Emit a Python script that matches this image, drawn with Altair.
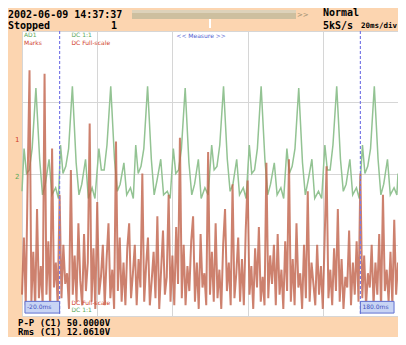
import altair as alt
import pandas as pd

# ---------------- data ----------------
# time axis: 10 divisions x 20 ms ; vertical axis: 8 divisions
time_ms = list(range(0, 201))
ch2_red = [
    0.6, 2.2, 0.3, 3.8, 6.9, 0.4, 1.8, 0.2, 3.0, 0.5,
    1.4, 0.3, 6.8, 0.6, 2.1, 0.2, 4.7, 0.8, 1.5, 0.3,
    3.4, 0.5, 2.0, 0.9, 1.2, 0.2, 4.1, 0.6, 1.7, 0.4,
    2.6, 1.0, 0.3, 2.3, 0.7, 1.5, 5.4, 0.4, 1.9, 0.2,
    3.2, 0.6, 1.1, 2.0, 0.3, 1.6, 2.6, 0.5, 1.3, 0.2,
    4.9, 0.7, 2.2, 0.4, 1.5, 0.3, 1.9, 2.6, 0.5, 1.2,
    2.0, 0.3, 1.6, 0.8, 4.0, 0.4, 1.4, 2.2, 0.3, 1.0,
    1.8, 0.5, 2.8, 0.2, 1.3, 2.4, 0.6, 1.1, 3.4, 0.4,
    1.7, 0.3, 2.5, 0.9, 5.0, 0.5, 2.0, 0.3, 1.4, 0.7,
    2.1, 2.8, 0.4, 1.5, 0.2, 2.3, 0.8, 1.2, 0.3, 4.6,
    0.6, 1.8, 0.4, 2.6, 0.5, 1.3, 0.2, 2.0, 3.0, 0.7,
    1.5, 0.3, 3.7, 0.5, 1.2, 2.2, 0.4, 1.6, 0.3, 2.4,
    3.8, 0.6, 1.4, 0.2, 1.9, 0.8, 2.5, 0.4, 1.1, 0.3,
    4.3, 0.5, 1.7, 0.9, 2.0, 0.3, 2.3, 0.6, 1.3, 0.2,
    2.1, 0.7, 4.4, 0.4, 1.6, 0.3, 2.6, 0.8, 1.2, 0.2,
    2.0, 0.5, 3.5, 0.4, 1.5, 0.9, 0.3, 2.0, 0.6, 1.4,
    0.2, 2.2, 4.2, 0.5, 1.3, 0.3, 1.9, 0.7, 3.0, 0.4,
    1.6, 0.2, 1.1, 0.8, 2.4, 0.3, 1.5, 0.6, 2.1, 0.4,
    4.0, 0.5, 1.7, 0.3, 1.2, 0.8, 2.0, 0.3, 1.5, 0.6,
    2.3, 0.2, 3.4, 0.7, 1.3, 0.4, 1.8, 0.3, 2.7, 0.6,
    1.5,
]
green_t = [
    0.0,
    1.1, 2.4, 3.9, 5.4, 7.4, 9.4, 10.9, 12.4, 14.4, 15.9, 17.9, 19.4,
    20.5, 21.8, 23.3, 24.8, 26.8, 28.8, 30.3, 31.8, 33.8, 35.3, 37.3, 38.8,
    40.9, 42.2, 43.7, 45.2, 47.2, 49.2, 50.7, 52.2, 54.2, 55.7, 57.7, 59.2,
    60.5, 61.8, 63.3, 64.8, 66.8, 68.8, 70.3, 71.8, 73.8, 75.3, 77.3, 78.8,
    80.5, 81.8, 83.3, 84.8, 86.8, 88.8, 90.3, 91.8, 93.8, 95.3, 97.3, 99.0,
    100.9, 102.2, 103.7, 105.2, 107.2, 109.2, 110.7, 112.2, 114.2, 115.7, 117.7, 119.2,
    120.9, 122.2, 123.7, 125.2, 127.2, 129.2, 130.7, 132.2, 134.2, 135.7, 137.7, 139.2,
    140.9, 142.2, 143.7, 145.2, 147.2, 149.2, 150.7, 152.2, 154.2, 155.7, 157.7, 159.4,
    161.1, 162.4, 163.9, 165.4, 167.4, 169.4, 170.9, 172.4, 174.4, 175.9, 177.9, 179.4,
    181.1, 182.4, 183.9, 185.4, 187.4, 189.4, 190.9, 192.4, 194.4, 195.9, 197.9, 199.4,
    200.0,
]
green_v = [
    3.5,
    4.7, 4.0, 4.1, 4.7, 6.40, 4.4, 3.4, 3.7, 4.4, 3.4, 3.6, 3.3,
    4.8, 4.0, 4.2, 4.7, 6.45, 4.3, 3.4, 3.7, 4.4, 3.3, 3.6, 3.3,
    4.7, 4.1, 4.1, 4.8, 6.45, 4.4, 3.5, 3.7, 4.3, 3.4, 3.6, 3.3,
    4.8, 4.0, 4.2, 4.7, 6.45, 4.4, 3.4, 3.8, 4.4, 3.4, 3.5, 3.3,
    4.7, 4.0, 4.1, 4.7, 6.40, 4.3, 3.4, 3.7, 4.4, 3.3, 3.6, 3.4,
    4.8, 4.1, 4.2, 4.8, 6.45, 4.4, 3.5, 3.7, 4.4, 3.4, 3.6, 3.3,
    4.8, 4.0, 4.1, 4.7, 6.45, 4.4, 3.4, 3.7, 4.3, 3.4, 3.6, 3.3,
    4.7, 4.0, 4.2, 4.7, 6.40, 4.3, 3.4, 3.8, 4.4, 3.3, 3.5, 3.3,
    4.8, 4.1, 4.1, 4.8, 6.45, 4.4, 3.5, 3.7, 4.4, 3.4, 3.6, 3.3,
    4.8, 4.0, 4.2, 4.7, 6.45, 4.4, 3.4, 3.7, 4.4, 3.4, 3.6, 3.4,
    4.0,
]
cursor_t = [20, 180]
x_grid = list(range(0, 201, 20))
y_grid = list(range(0, 9))

header_date = "2002-06-09 14:37:37"
header_state = "Stopped"
header_count = "1"
header_mode = "Normal"
header_rate = "5kS/s"
header_div = "20ms/div"
meas_line1 = "P-P (C1)  50.0000V"
meas_line2 = "Rms (C1)  12.0610V"

# ---------------- layout ----------------
PW, PH = 376, 285           # plot area
PAGE_X0, PAGE_Y0 = 22, 31   # page position of plot origin
MONO = "DejaVu Sans Mono"
SANS = "DejaVu Sans"
PEACH = "#fcd5b0"

xs = alt.Scale(domain=[0, 200], nice=False, zero=False)
ys = alt.Scale(domain=[0, 8], nice=False, zero=False)
x_axis = alt.Axis(values=x_grid, grid=True, gridColor="#d6d6d6", gridWidth=1,
                  labels=False, ticks=False, domain=False, title=None)
y_axis = alt.Axis(values=y_grid, grid=True, gridColor="#d6d6d6", gridWidth=1,
                  labels=False, ticks=False, domain=False, title=None)

red_df = pd.DataFrame({"t": time_ms, "v": ch2_red})
green_df = pd.DataFrame({"t": green_t, "v": green_v})
cur_df = pd.DataFrame({"t": cursor_t})

green = alt.Chart(green_df).mark_line(color="#93c393", strokeWidth=1.5).encode(
    x=alt.X("t:Q", scale=xs, axis=x_axis),
    y=alt.Y("v:Q", scale=ys, axis=y_axis),
)
red = alt.Chart(red_df).mark_line(color="#c0624a", strokeWidth=2.0, opacity=0.8).encode(
    x=alt.X("t:Q", scale=xs),
    y=alt.Y("v:Q", scale=ys),
)
cursors = alt.Chart(cur_df).mark_rule(color="#7b7be6", strokeDash=[3, 2], strokeWidth=1.2).encode(
    x=alt.X("t:Q", scale=xs)
)

one = pd.DataFrame({"k": [0]})


def page(px, py):
    return px - PAGE_X0, py - PAGE_Y0


def inside(px, py):
    return (px - 22) * PW / 380.0, (py - 33) * PH / 292.0


def txt(s, pos, color="black", size=10, weight="bold", font=MONO, align="left"):
    x, y = pos
    return alt.Chart(one).mark_text(text=s, align=align, baseline="middle", color=color,
                                    fontSize=size, fontWeight=weight, font=font).encode(
        x=alt.value(x), y=alt.value(y))


def box(p1, p2, color, opacity=1.0, stroke=None):
    (x1, y1), (x2, y2) = p1, p2
    kw = dict(color=color, opacity=opacity)
    if stroke:
        kw.update(stroke=stroke, strokeWidth=1)
    return alt.Chart(one).mark_rect(**kw).encode(
        x=alt.value(x1), x2=alt.value(x2), y=alt.value(y1), y2=alt.value(y2))


deco = [
    # header progress bar
    box(page(132, 10), page(296, 19), "#cdbf9f"),
    box(page(132, 10), page(296, 13), "#ddd2ba"),
    box(page(209, 19), page(211, 28), "#ffffff"),
    txt(">>", page(297, 15), color="#a09070", size=7, weight="normal", font=SANS),
    txt(header_date, page(8, 15)),
    txt(header_state, page(8, 26)),
    txt(header_count, page(111, 26)),
    txt(header_mode, page(323, 13)),
    txt(header_rate, page(323, 26)),
    txt(header_div, page(361, 26), size=7.5),
    # inside labels (top)
    txt("AD1", inside(24, 37), color="#5aa85a", size=6, weight="normal", font=SANS),
    txt("Marks", inside(24, 45), color="#d0402a", size=6, weight="normal", font=SANS),
    txt("DC 1:1", inside(72, 37), color="#5aa85a", size=6, weight="normal", font=SANS),
    txt("DC Full-scale", inside(72, 45), color="#d0402a", size=6, weight="normal", font=SANS),
    txt("<< Measure >>", inside(178, 38), color="#5060d0", size=6, weight="normal", font=SANS),
    # channel markers on the left edge
    txt("1", inside(15, 145), color="#d0402a", size=7, weight="normal", font=SANS),
    txt("2", inside(15, 183), color="#5aa85a", size=7, weight="normal", font=SANS),
    # bottom boxes inside plot
    box(inside(25, 310), inside(60, 322), "#c8d4f4", stroke="#6070d0"),
    txt("-20.0ms", inside(27, 316), color="#4050c0", size=6, weight="normal", font=SANS),
    txt("DC Full-scale", inside(72, 312), color="#d0402a", size=6, weight="normal", font=SANS),
    txt("DC 1:1", inside(72, 319), color="#5aa85a", size=6, weight="normal", font=SANS),
    box(inside(364, 310), inside(398, 322), "#c8d4f4", stroke="#6070d0"),
    txt("180.0ms", inside(366, 316), color="#4050c0", size=6, weight="normal", font=SANS),
    # measurements below the plot
    txt(meas_line1, page(18, 323), size=9),
    txt(meas_line2, page(18, 332), size=9),
]

chart = alt.layer(green, red, cursors, *deco).properties(
    width=PW, height=PH,
    autosize=alt.AutoSizeParams(type="none"),
    padding={"left": 14, "top": 23, "right": 0, "bottom": 21},
).configure(background=PEACH).configure_view(fill="white", stroke="#f0c49c", strokeWidth=1)

chart.save("out.html", embed_options={"renderer": "svg", "actions": False})
